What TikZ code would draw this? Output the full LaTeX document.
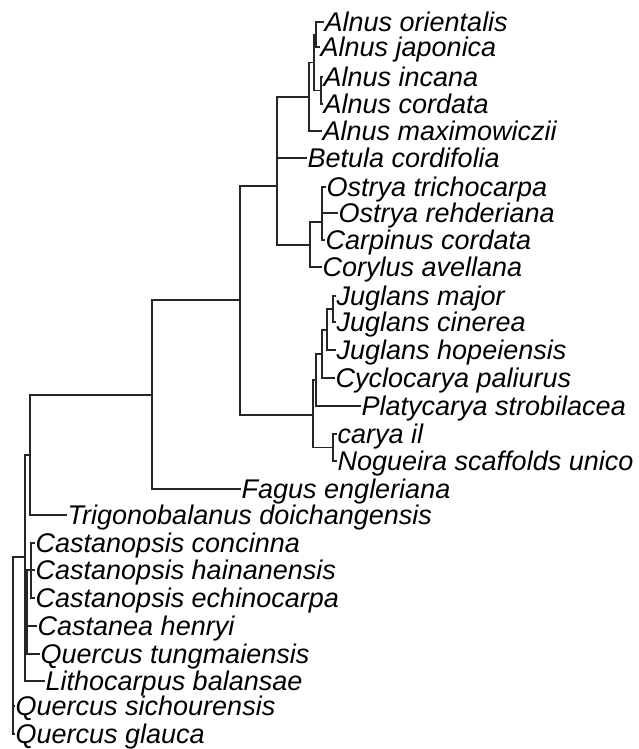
\documentclass[tikz,border=0pt]{standalone}
\usepackage{fontspec}
\setmainfont{Liberation Sans}
\begin{document}
\begin{tikzpicture}[x=1pt,y=-1pt,
  edge/.style={draw=black!85,line width=1.3pt},
  lab/.style={anchor=base west,inner sep=0pt,font=\fontsize{27}{27}\selectfont\itshape}]
\useasboundingbox (0,0) rectangle (638,749);
% internal nodes
\coordinate (root) at (13,645);
\coordinate (nA) at (25,557);
\coordinate (nT) at (30,455);
\coordinate (nF) at (152,395);
\coordinate (nBJ) at (240,300);
\coordinate (nBet) at (277,186);
\coordinate (nAln) at (309,97);
\coordinate (nOJIC) at (314,62.5);
\coordinate (nOJ) at (316,34.5);
\coordinate (nIC) at (321,90.5);
\coordinate (nCarp) at (310,245);
\coordinate (nOst) at (322,222);
\coordinate (nJug) at (313,415);
\coordinate (nPla) at (316,380);
\coordinate (nCyc) at (322,354);
\coordinate (nHop) at (327,330);
\coordinate (nJM) at (333,309);
\coordinate (nCar) at (333,447.5);
\coordinate (nC) at (27,612);
\coordinate (nCast) at (31,570);
% tips
\foreach \n/\x/\y/\t in {
  t1/324/22/Alnus orientalis,
  t2/320/47/Alnus japonica,
  t3/323/77/Alnus incana,
  t4/323/104/Alnus cordata,
  t5/322/131/Alnus maximowiczii,
  t6/307/158/Betula cordifolia,
  t7/326/187/Ostrya trichocarpa,
  t8/338/213/Ostrya rehderiana,
  t9/325/240/Carpinus cordata,
  t10/322/267/Corylus avellana,
  t11/336/296/Juglans major,
  t12/336/322/Juglans cinerea,
  t13/336/350/Juglans hopeiensis,
  t14/335/378/Cyclocarya paliurus,
  t15/361/406/Platycarya strobilacea,
  t16/337/434/carya il,
  t17/337/461/Nogueira scaffolds unico,
  t18/241/489/Fagus engleriana,
  t19/67/515/Trigonobalanus doichangensis,
  t20/35/543/Castanopsis concinna,
  t21/35/570/Castanopsis hainanensis,
  t22/35/598/Castanopsis echinocarpa,
  t23/37/626/Castanea henryi,
  t24/40/654/Quercus tungmaiensis,
  t25/45/681/Lithocarpus balansae,
  t26/15/706/Quercus sichourensis,
  t27/15/734/Quercus glauca}
{
  \coordinate (\n) at (\x,\y);
  \node[lab] (L\n) at (\x+0.5,\y+9.7) {\t};
}
% edges
\foreach \p/\c in {
  root/nA, root/t26, root/t27,
  nA/nT, nA/nC, nA/t25,
  nT/nF, nT/t19,
  nF/nBJ, nF/t18,
  nBJ/nBet, nBJ/nJug,
  nBet/nAln, nBet/t6, nBet/nCarp,
  nAln/nOJIC, nAln/t5,
  nOJIC/nOJ, nOJIC/nIC,
  nOJ/t1, nOJ/t2,
  nIC/t3, nIC/t4,
  nCarp/nOst, nCarp/t10,
  nOst/t7, nOst/t8, nOst/t9,
  nJug/nPla, nJug/nCar,
  nPla/nCyc, nPla/t15,
  nCyc/nHop, nCyc/t14,
  nHop/nJM, nHop/t13,
  nJM/t11, nJM/t12,
  nCar/t16, nCar/t17,
  nC/nCast, nC/t23, nC/t24,
  nCast/t20, nCast/t21, nCast/t22}
{
  \draw[edge] (\p) |- (\c);
}
\end{tikzpicture}
\end{document}
